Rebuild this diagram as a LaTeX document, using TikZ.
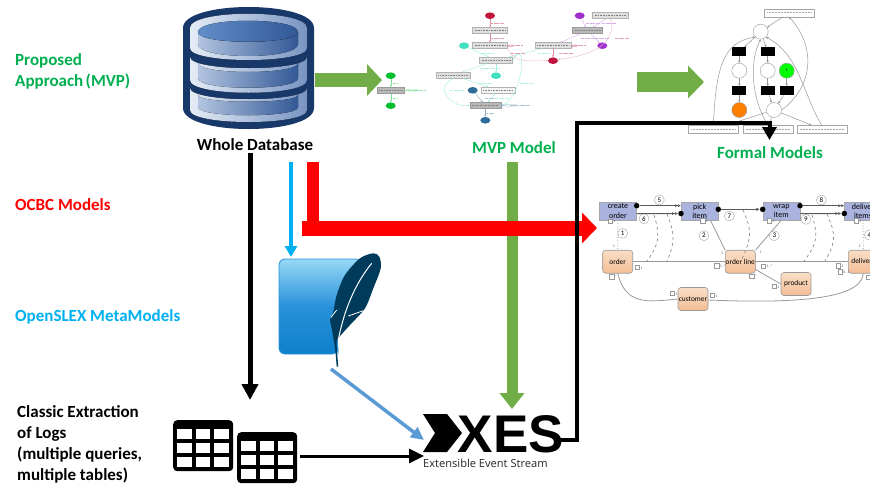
\documentclass[tikz,border=0pt]{standalone}
\usepackage{fontspec}
\setmainfont{Carlito}
\newfontfamily\xesfont{Liberation Sans}
\newfontfamily\xessub{Open Sans}
\usetikzlibrary{arrows.meta,calc,shapes.geometric}

\definecolor{mvpgreen}{RGB}{112,173,71}
\definecolor{headgreen}{RGB}{0,176,80}
\definecolor{headblue}{RGB}{0,176,240}
\definecolor{dbnavy}{RGB}{24,56,106}
\definecolor{dbpale}{RGB}{228,236,246}
\definecolor{dbmid}{RGB}{120,148,194}
\definecolor{dbpanel}{RGB}{178,196,224}
\definecolor{dbdeep}{RGB}{50,88,150}
\definecolor{dblens}{RGB}{96,142,200}
\definecolor{arrowblue}{RGB}{91,155,213}
\definecolor{sqlitetop}{RGB}{151,217,246}
\definecolor{sqlitemid}{RGB}{40,145,218}
\definecolor{sqlitelow}{RGB}{15,128,204}
\definecolor{quill}{RGB}{0,59,92}
\definecolor{crimson}{RGB}{192,20,60}
\definecolor{violet}{RGB}{160,47,208}
\definecolor{turq}{RGB}{64,224,190}
\definecolor{teal}{RGB}{46,108,153}
\definecolor{leaf}{RGB}{0,192,48}
\definecolor{actblue}{RGB}{170,178,222}
\definecolor{classtop}{RGB}{250,222,198}
\definecolor{classlow}{RGB}{243,190,150}

\tikzset{
    heading/.style={anchor=west,align=left,inner sep=0pt,font=\fontsize{17}{20.8}\selectfont\bfseries},
    caption/.style={inner sep=0pt,font=\fontsize{17}{20}\selectfont\bfseries},
    mvpbox/.style={draw=gray!60,fill=gray!25,minimum height=6pt,inner sep=0pt,line width=0.5pt,
        path picture={\draw[gray,line width=1pt,dash pattern=on 1pt off 0.6pt]
            ($(path picture bounding box.west)+(2,0)$) -- ($(path picture bounding box.east)+(-2,0)$);}},
    mvpdark/.style={mvpbox,fill=gray!55,draw=gray!80},
    mvpnode/.style={ellipse,minimum width=10pt,minimum height=6.6pt,inner sep=0pt},
    mvpedge/.style={line width=0.4pt,-{Stealth[length=2pt,width=2pt]}},
    tinylabel/.style={line width=0.7pt,dash pattern=on 0.8pt off 0.4pt},
    petribox/.style={draw=gray!70,fill=white,minimum width=50pt,minimum height=8pt,inner sep=0pt,line width=0.4pt,
        path picture={\draw[gray!70,line width=0.7pt,dash pattern=on 1pt off 0.5pt]
            ($(path picture bounding box.west)+(3,0)$) -- ($(path picture bounding box.east)+(-3,0)$);}},
    place/.style={circle,draw=gray!80,fill=white,minimum size=15pt,inner sep=0pt,line width=0.4pt},
    trans/.style={fill=black,minimum width=14pt,minimum height=9pt,inner sep=0pt},
    petriedge/.style={draw=gray!80,line width=0.5pt,-{Stealth[length=2.5pt,width=2.5pt]}},
    activity/.style={draw=gray!70,fill=actblue,minimum width=37pt,minimum height=18pt,inner sep=0pt,
        align=center,font=\fontsize{8}{9.5}\selectfont,line width=0.4pt},
    classbox/.style={draw=gray!80,rounded corners=3pt,top color=classtop,bottom color=classlow,
        minimum width=30pt,minimum height=23pt,inner sep=0pt,font=\fontsize{7.4}{9}\selectfont,line width=0.6pt},
    ocbcline/.style={draw=gray!80,line width=0.8pt},
    ocbcdash/.style={draw=gray!90,line width=0.7pt,dashed},
    numbered/.style={circle,draw=gray!70,fill=white,minimum size=10pt,inner sep=0pt,font=\fontsize{7}{7}\selectfont},
    seqdot/.style={circle,fill=black,minimum size=5.5pt,inner sep=0pt},
    seqline/.style={draw=gray!70!black,line width=0.9pt},
    tagtext/.style={anchor=west,inner sep=0pt,text=gray!80!black,font=\fontsize{4}{4}\selectfont},
}

\begin{document}
\begin{tikzpicture}[x=1pt,y=-1pt]
    \useasboundingbox (0,0) rectangle (870,485);
    \clip (0,0) rectangle (870,485);
    \fill[white] (0,0) rectangle (870,485);

    \node[heading,text=headgreen] (proposed) at (15,71.5) {Proposed\\Approach\hspace{-1.5pt} (MVP)};
    \node[heading,text=red] (ocbc) at (15,205) {OCBC Models};
    \node[heading,text=headblue] (openslex) at (15,317) {OpenSLEX MetaModels};
    \node[heading,text=black] (classic) at (17,444.5) {Classic Extraction\\of Logs\\(multiple queries,\\multiple tables)};

    % database
    \fill[dbnavy] (183,28) .. controls (183,0) and (314,0) .. (314,28) -- (314,108)
        .. controls (314,136) and (183,136) .. (183,108) -- cycle;
    \foreach \ta/\tb/\ba/\bb in {28/9/48/64, 57/72/80/97, 88/103/110/126} {
        \fill[left color=dbpale,right color=dbmid]
            (190,\ta) .. controls (190,\tb) and (307,\tb) .. (307,\ta) -- (307,\ba)
            .. controls (307,\bb) and (190,\bb) .. (190,\ba) -- cycle;
    }
    \foreach \ta/\tb/\ba/\bb in {32/45/44/60, 63/75/78/91, 95/104/107/118} {
        \fill[left color=dbpanel,right color=dbdeep]
            (198,\ta) .. controls (198,\tb) and (298,\tb) .. (298,\ta) -- (298,\ba)
            .. controls (298,\bb) and (198,\bb) .. (198,\ba) -- cycle;
    }
    \fill[left color=dblens,right color=dbdeep]
        (198,32) .. controls (198,17) and (298,17) .. (298,32)
        .. controls (298,45) and (198,45) .. (198,32) -- cycle;
    \node[caption] (dbname) at (255,145) {Whole Database};

    % sqlite icon
    \draw[draw=sqlitemid,line width=0.8pt,top color=sqlitetop,bottom color=sqlitelow,middle color=sqlitemid,rounded corners=6pt]
        (279,259) -- (362,259) -- (350,275) -- (341,295) -- (337,312) -- (335,320) -- (336,328)
        -- (338,348) -- (338,354) -- (279,354) -- cycle;
    \fill[quill] plot[smooth,tension=0.5] coordinates {(336.7,366.7) (335,348.3) (331.7,328.3)
        (330,320) (333.3,311.7) (336.7,295) (345,275) (360,258.3) (373.3,253.3) (379.3,256.7) (380.7,268.3)
        (373.3,288.3) (365,308.3) (350,325) (338.3,338.3) (336.7,345) (338.3,366.7)} -- cycle;
    \draw[white,line width=1pt] (338.3,340) .. controls (345,305) and (358,280) .. (371.7,263.3);
    \draw[white,line width=0.8pt] (348.3,316) -- (363.3,310.7);
    \draw[white,line width=0.8pt] (331,317.3) -- (336.7,310);

    % mvp model
    \node[mvpnode,fill=crimson] (e1) at (490,15.7) {};
    \node[mvpnode,fill=crimson] (e2) at (553,60.7) {};
    \node[mvpnode,fill=violet] (p1) at (579.7,15.7) {};
    \node[mvpnode,fill=violet] (p2) at (602.3,45.7) {};
    \node[mvpnode,fill=turq] (t1) at (464,45.7) {};
    \node[mvpnode,fill=turq] (t2) at (496,75.7) {};
    \node[mvpnode,fill=leaf] (g1) at (390.7,75.7) {};
    \node[mvpnode,fill=leaf] (g2) at (390.7,105.7) {};
    \node[mvpnode,fill=teal] (c1) at (472.7,90.3) {};
    \node[mvpnode,fill=teal] (c2) at (485.3,120.3) {};
    \node[mvpbox,minimum width=35pt] (b1) at (490,30.7) {};
    \node[mvpbox,minimum width=35pt] (b2) at (490,45.7) {};
    \node[mvpbox,minimum width=36pt] (b3) at (553,45.7) {};
    \node[mvpdark,minimum width=30pt] (b4) at (587.7,30.7) {};
    \node[mvpbox,minimum width=36pt] (b5) at (610.7,15.7) {};
    \node[mvpbox,minimum width=33pt] (b6) at (496,60.3) {};
    \node[mvpbox,minimum width=34pt] (b7) at (453.3,75.3) {};
    \node[mvpbox,fill=gray!8,minimum width=34pt] (b8) at (498,90.3) {};
    \node[mvpdark,minimum width=31pt] (b9) at (485.3,105.3) {};
    \node[mvpdark,minimum width=27pt] (b10) at (390.7,90.3) {};

    \foreach \a/\b in {e1/b1, b1/b2, b3/e2} {
        \draw[mvpedge,crimson!50] (\a) -- (\b);
    }
    \draw[mvpedge,crimson!30] (b2.south east) .. controls +(8,14) and +(-30,0) .. (e2);
    \draw[mvpedge,crimson!30] (b5.south) .. controls +(8,35) and +(15,-3) .. (e2);
    \draw[mvpedge,crimson!50] (b2.east) .. controls +(8,-3) and +(8,3) .. (b2.east);
    \draw[mvpedge,crimson!50] (b3.east) .. controls +(8,-3) and +(8,3) .. (b3.east);
    \foreach \a/\b in {p1/b4, b5/b4, b4/b3, b4/p2} {
        \draw[mvpedge,violet!40] (\a) -- (\b);
    }
    \foreach \a/\b in {t1/b6, b3/b6, b6/b7, b6/t2, b7/b8, b8/b9} {
        \draw[mvpedge,turq!50] (\a) -- (\b);
    }
    \draw[mvpedge,turq!50] (b7.south) .. controls +(-22,10) and +(-15,3) .. (b9.west);
    \draw[mvpedge,turq!50] (b9.east) .. controls +(22,-4) and +(15,-25) .. (b6.east);
    \foreach \a/\b in {c1/b9, b9/c2} {
        \draw[mvpedge,teal!55] (\a) -- (\b);
    }
    \draw[mvpedge,teal!45] (b9.east) .. controls +(20,-3) and +(20,3) .. (b9.east);
    \foreach \a/\b in {g1/b10, b10/g2} {
        \draw[mvpedge,leaf!50] (\a) -- (\b);
    }
    \draw[mvpedge,leaf!40] (b10.east) .. controls +(18,-3) and +(18,3) .. (b10.east);
    \foreach \x/\y/\w/\c in {490/23/14/crimson, 490/38/14/crimson, 511/45.7/12/crimson, 574/45.7/12/crimson,
        511/53/14/crimson, 559/53/14/crimson, 615/38/14/crimson, 586/23/14/violet, 602/23/14/violet,
        581/38/14/violet, 595/38/14/violet, 482/53/12/turq, 538/53/12/turq, 480/68/20/turq, 478/83/14/turq,
        450/90/14/turq, 495/98/14/turq, 520/83/14/turq, 485/98/10/teal, 485/113/9/teal, 510/105/20/teal,
        393/83/4/leaf, 393/98/4/leaf, 408/90/18/leaf} {
        \draw[tinylabel,\c!40] (\x,\y) -- ++(\w,0);
    }

    % formal models
    \node[petribox] (top) at (789,12.7) {};
    \node[petribox] (boxl) at (713.3,129.3) {};
    \node[petribox] (boxm) at (767.7,129.3) {};
    \node[petribox] (boxr) at (821.7,129.3) {};
    \node[place] (pstart) at (760.7,31.7) {};
    \node[trans] (tr1) at (739.3,51.7) {};
    \node[trans] (tr2) at (767.7,51.7) {};
    \node[place] (pa) at (739.3,70.7) {};
    \node[place] (pb) at (767.7,70.7) {};
    \node[place,fill=green,font=\fontsize{4}{4}\selectfont] (pc) at (786.7,70.7) {1};
    \node[trans] (tr3) at (739.3,90.7) {};
    \node[trans] (tr4) at (767.7,90.7) {};
    \node[trans] (tr5) at (786.7,90.7) {};
    \node[place,fill=orange] (pd) at (739.3,110) {};
    \node[place] (pend) at (774,110) {};

    \foreach \a/\b in {top/pstart, pstart/tr1, pstart/tr2, tr1/pa, tr2/pb, pa/tr3, pb/tr4, pc/tr5, tr3/pd, tr4/pend, tr5/pend, pend/boxr, pend/boxl, pend/boxm} {
        \draw[petriedge] (\a) -- (\b);
    }
    \draw[petriedge] (boxl.north) .. controls (716,70) and (722,42) .. (pstart.south west);
    \draw[petriedge] (boxm.north) .. controls (750,95) and (750,60) .. (pstart.south);
    \draw[petriedge] (boxr.north) .. controls (803,95) and (800,55) .. (pstart.south east);
    \draw[petriedge] (pend.east) .. controls (815,85) and (815,45) .. (top.south);

    % ocbc model
    \node[activity] (create) at (618,211) {create\\order};
    \node[activity] (pick) at (699.7,211) {pick\\item};
    \node[activity] (wrap) at (781.3,211) {wrap\\item};
    \node[activity] (deliver) at (863,211) {deliver\\items};
    \node[classbox] (order) at (617.7,261.7) {order};
    \node[classbox] (orderline) at (740.3,261.7) {order line};
    \node[classbox] (delivery) at (863.3,261.7) {delivery};
    \node[classbox] (product) at (796,284) {product};
    \node[classbox] (customer) at (693,299) {customer};

    \draw[ocbcline,dotted] (create) -- (order);
    \draw[ocbcline] (pick.south east) ++(-8,0) -- (orderline.north west);
    \draw[ocbcline] (wrap.south) -- (orderline.north east);
    \draw[ocbcline,dotted] (deliver) -- (delivery);
    \draw[ocbcline] (order) -- (orderline);
    \draw[ocbcline] (orderline) -- (delivery);
    \draw[ocbcline] (orderline.south east) ++(0,-4) -- (product.west);
    \draw[ocbcline] (order.south) .. controls +(8,32) and +(-30,3) .. (customer.west);
    \draw[ocbcline] (customer.east) ++(0,1) .. controls +(75,3) and +(-2,28) .. (delivery.south);

    \foreach \i/\x/\y in {1/622.7/233.3, 2/704/235.7, 3/774.3/235.7, 4/869.3/235, 5/659.3/200, 6/644/218.7, 7/729.3/216, 8/821.3/200, 9/806/219.3} {
        \node[numbered] (n\i) at (\x,\y) {\i};
    }

    \foreach \x/\y/\a/\c in {654/215/660/647, 667/214/675/667, 743/210/752/741, 812/215/818/804, 827/214/836/825} {
        \draw[ocbcdash] (\x,\y) .. controls (\a,\y+20) and (\a,\y+28) .. (\c,261);
    }

    \node[seqdot] (dot1) at (636.7,205.7) {};
    \node[seqdot] (dot2) at (681,213.5) {};
    \node[seqdot] (dot3) at (718.3,209.3) {};
    \node[seqdot] (dot4) at (762.7,209.3) {};
    \node[seqdot] (dot5) at (800,205.7) {};
    \node[seqdot] (dot6) at (844.3,213.5) {};
    \coordinate (pickw) at (681,205.7);
    \coordinate (createse) at (636.7,213.7);
    \coordinate (deliverw) at (844.3,205.7);
    \coordinate (wrapse) at (800,213.7);
    \draw[seqline,-{Latex[length=3.5pt,width=3.5pt]}] (dot3) -- (dot4);
    \foreach \a/\b in {dot1/pickw, createse/dot2, dot5/deliverw, wrapse/dot6} {
        \draw[seqline,-{Latex[length=3pt,width=3pt]Latex[length=3pt,width=3pt]}] (\a) -- (\b);
    }

    \foreach \i/\x/\y/\t in {1/610/221/1, 2/702.7/220.7/1, 3/769.3/220.7/1, 4/856/220.7/1, 5/637.3/267.3/1, 6/716.7/265.7/{1..*},
        7/763.3/266/{1..*}, 8/838.3/265.7/1, 9/840/271.7/{0..1}, 10/611.7/276.7/*, 11/751.7/276/*, 12/774/286.3/1,
        13/672.3/293.3/1, 14/712.3/295.3/1, 15/868/277/1} {
        \node[draw=gray!80,fill=white,minimum size=4.2pt,inner sep=0pt,line width=0.3pt] (tag\i) at (\x,\y) {};
        \node[tagtext] (tagt\i) at (\x+3,\y+0.5) {\t};
    }
    \foreach \i/\x/\y in {1/612.7/246.7, 2/721/253.3, 3/759.3/252, 4/858.3/246.7} {
        \node[tagtext] (mult\i) at (\x,\y) {1};
    }

    % tables
    \foreach \name/\x/\y in {tablea/173/420, tableb/237/432} {
        \node[fill=black,rounded corners=4pt,minimum width=60pt,minimum height=51pt,inner sep=0pt,anchor=north west] (\name) at (\x,\y) {};
        \foreach \cx in {4.3,23,41.3} {
            \foreach \cy in {9.3,23.3,37.3} {
                \fill[white] (\x+\cx,\y+\cy) rectangle ++(14.3,9.7);
            }
        }
    }

    % xes logo
    \fill[black] (423,414) -- (447,414) -- (462,433) -- (447,452) -- (423,452) -- (435,433) -- cycle;
    \node[inner sep=0pt,anchor=west,text height=38pt,text depth=0pt,font=\xesfont\fontsize{53}{53}\selectfont\bfseries] (xes) at (457.5,433) {XES};
    \node[inner sep=0pt,anchor=west,font=\xessub\fontsize{11.1}{13}\selectfont,text=black!85] (xesname) at (423,463) {Extensible Event Stream};

    % connectors
    \coordinate (dbgreen) at (315,80);
    \coordinate (mvpin) at (382,80);
    \coordinate (mvpout) at (637,82);
    \coordinate (formalin) at (704,82);
    \coordinate (mvpdown) at (512,162);
    \coordinate (xesup) at (512,409);
    \coordinate (dbred) at (313,162);
    \coordinate (redcorner) at (313,228);
    \coordinate (redstart) at (302,228);
    \coordinate (ocbcin) at (597,228);
    \coordinate (dbblue) at (291,162);
    \coordinate (sqlitein) at (291,257);
    \coordinate (dbblack) at (250,153);
    \coordinate (tablesin) at (250,400);
    \coordinate (sqliteout) at (331,369);
    \coordinate (xesin) at (424,440);
    \coordinate (tableout) at (300,456);
    \coordinate (xestable) at (424,456);
    \coordinate (xesright) at (558,440);
    \coordinate (turn1) at (577,440);
    \coordinate (turn2) at (577,122.5);
    \coordinate (turn3) at (769.5,122.5);
    \coordinate (formaldown) at (769.5,140);

    \draw[mvpgreen,line width=14pt,-{Triangle[length=15pt,width=31pt]}] (dbgreen) -- (mvpin);
    \draw[mvpgreen,line width=20pt,-{Triangle[length=16pt,width=32pt]}] (mvpout) -- (formalin);
    \draw[mvpgreen,line width=11pt,-{Triangle[length=16pt,width=24pt]}] (mvpdown) -- (xesup);
    \draw[red,line width=12pt] (dbred) -- (redcorner);
    \draw[red,line width=15pt,-{Triangle[length=15pt,width=30pt]}] (redstart) -- (ocbcin);
    \draw[headblue,line width=4pt,-{Triangle[length=11pt,width=12pt]}] (dbblue) -- (sqlitein);
    \draw[black,line width=5pt,-{Triangle[length=16pt,width=16pt]}] (dbblack) -- (tablesin);
    \draw[arrowblue,line width=3.5pt,-{Triangle[length=13pt,width=12pt]}] (sqliteout) -- (xesin);
    \draw[black,line width=3pt,-{Triangle[length=15pt,width=14pt]}] (tableout) -- (xestable);
    \draw[black,line width=4pt,-{Triangle[length=13pt,width=14pt]}] (xesright) -- (turn1) -- (turn2) -- (turn3) -- (formaldown);

    \node[caption,text=headgreen] (mvpname) at (514,148) {MVP Model};
    \node[caption,text=headgreen] (formalname) at (770,153) {Formal Models};
\end{tikzpicture}
\end{document}
